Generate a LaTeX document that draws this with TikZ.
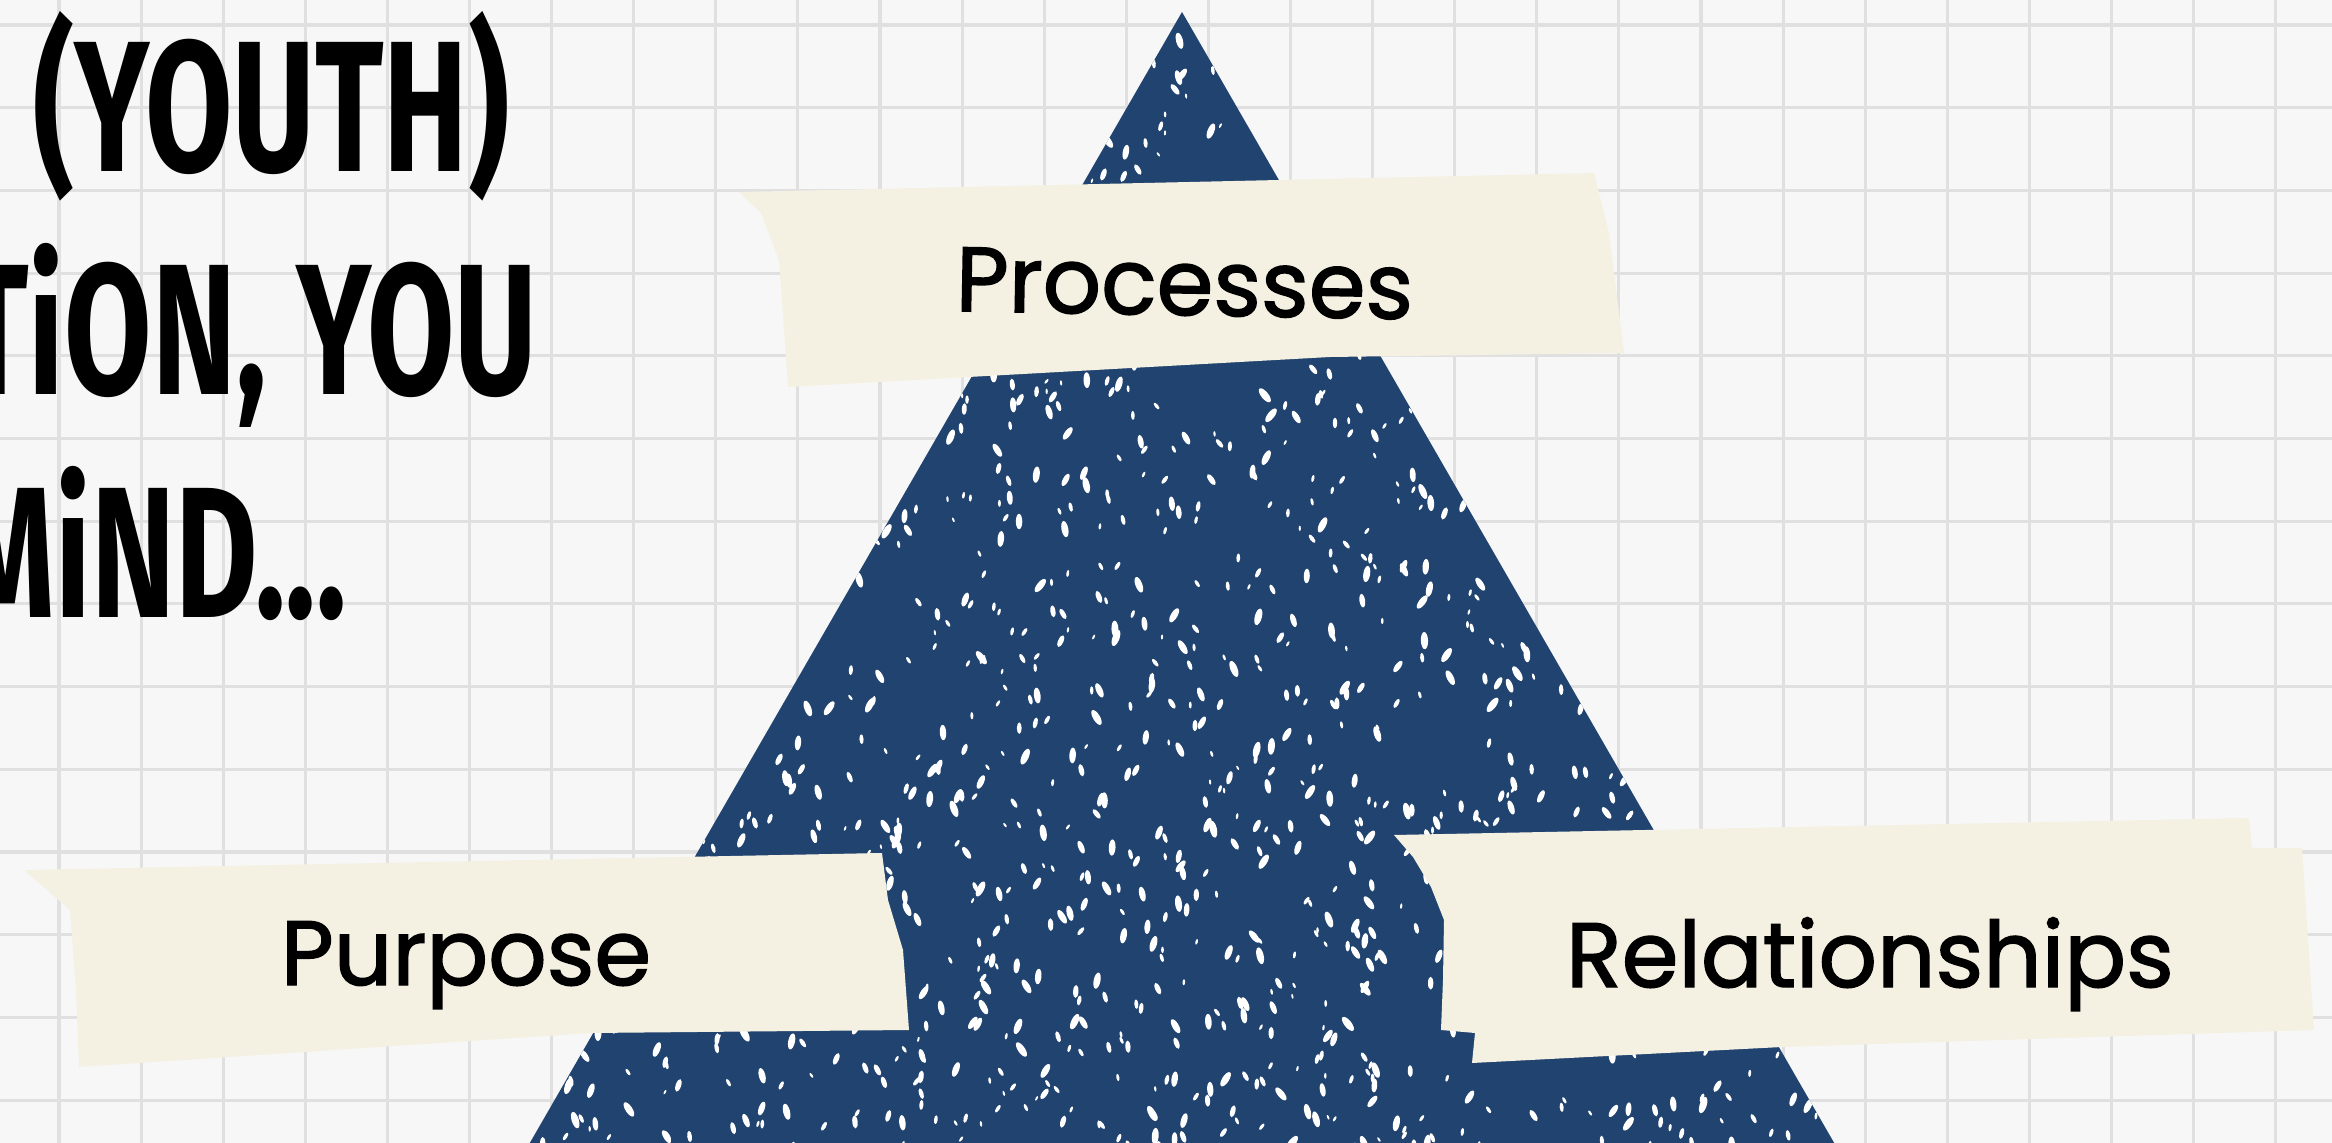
\documentclass[tikz,border=0pt]{standalone}
\usepackage{fontspec}
\newfontfamily\headfont{Fira Sans}
\newfontfamily\tapefont{Poppins}[BoldFont=Poppins, BoldFeatures={FakeBold=1.6}]
\definecolor{bgpaper}{HTML}{F7F7F7}
\definecolor{gridc}{HTML}{E0E0E0}
\definecolor{navy}{HTML}{21436F}
\definecolor{tapec}{HTML}{F4F1E2}
\begin{document}
\begin{tikzpicture}[x=0.01cm,y=-0.01cm,
  gridline/.style={gridc, line width=0.9pt},
  tapestyle/.style={fill=tapec, draw=none},
  labelstyle/.style={font=\tapefont\bfseries\fontsize{26}{30}\selectfont, text=black, inner sep=0pt, anchor=base},
  headstyle/.style={font=\headfont\bfseries\fontsize{53}{60}\selectfont, text=black, inner sep=0pt, anchor=base east}]
\useasboundingbox (0,0) rectangle (2332,1143);
\clip (0,0) rectangle (2332,1143);
\fill[bgpaper] (0,0) rectangle (2332,1143);
% grid
\foreach \k in {0,...,27}{\pgfmathsetmacro\gx{59+82.1*\k}\draw[gridline] (\gx,0) -- (\gx,1143);}
\foreach \k in {0,...,13}{\pgfmathsetmacro\gy{25+82.7*\k}\draw[gridline] (0,\gy) -- (2332,\gy);}
% triangle
\coordinate (apex) at (1182,12);
\coordinate (br) at (1844,1160);
\coordinate (bl) at (520,1160);
\fill[navy] (apex) -- (br) -- (bl) -- cycle;
\begin{scope}
\clip (apex) -- (br) -- (bl) -- cycle;
\pgfmathsetseed{4217}
\foreach \i in {1,...,950}{
  \pgfmathsetmacro\yy{12+1148*sqrt(rnd)}
  \pgfmathsetmacro\hw{0.5765*(\yy-12)}
  \pgfmathsetmacro\xx{1182+(2*rnd-1)*\hw}
  \pgfmathsetmacro\rr{1+2.6*rnd}
  \pgfmathsetmacro\ang{-40+80*rnd}
  \fill[white, rotate around={\ang:(\xx,\yy)}] (\xx,\yy) ellipse [x radius=\rr, y radius=2.4*\rr];
}
\end{scope}
% tapes
\path[tapestyle] (739,192) -- (1594,173) -- (1609,233) -- (1624,353) -- (1330,357) -- (788,387) -- (782,300) -- (779,260) -- (761,213) -- cycle;
\path[tapestyle] (24,870) -- (882,853) -- (888,900) -- (903,950) -- (909,1030) -- (591,1033) -- (79,1067) -- (76,990) -- (70,910) -- cycle;
\path[tapestyle] (1394,835) -- (2249,818) -- (2252,848) -- (2302,848) -- (2314,1030) -- (1782,1047) -- (1472,1063) -- (1475,1033) -- (1441,1030) -- (1443,980) -- (1444,920) -- (1431,887) -- (1413,857) -- cycle;
% labels
\node[labelstyle, rotate=-1] (processes) at (1184,315) {Processes};
\node[labelstyle] (purpose) at (466,985) {Purpose};
\node[labelstyle] (relationships) at (1870,987) {Relationships};
% heading
\node[headstyle] (line1) at (510,172) {\scalebox{0.68}[1]{(YOUTH)}};
\node[headstyle] (line2) at (538,395) {\scalebox{0.68}[1]{TiON, YOU}};
\node[headstyle] (line3) at (347,618) {\scalebox{0.68}[1]{MiND...}};
\end{tikzpicture}
\end{document}
